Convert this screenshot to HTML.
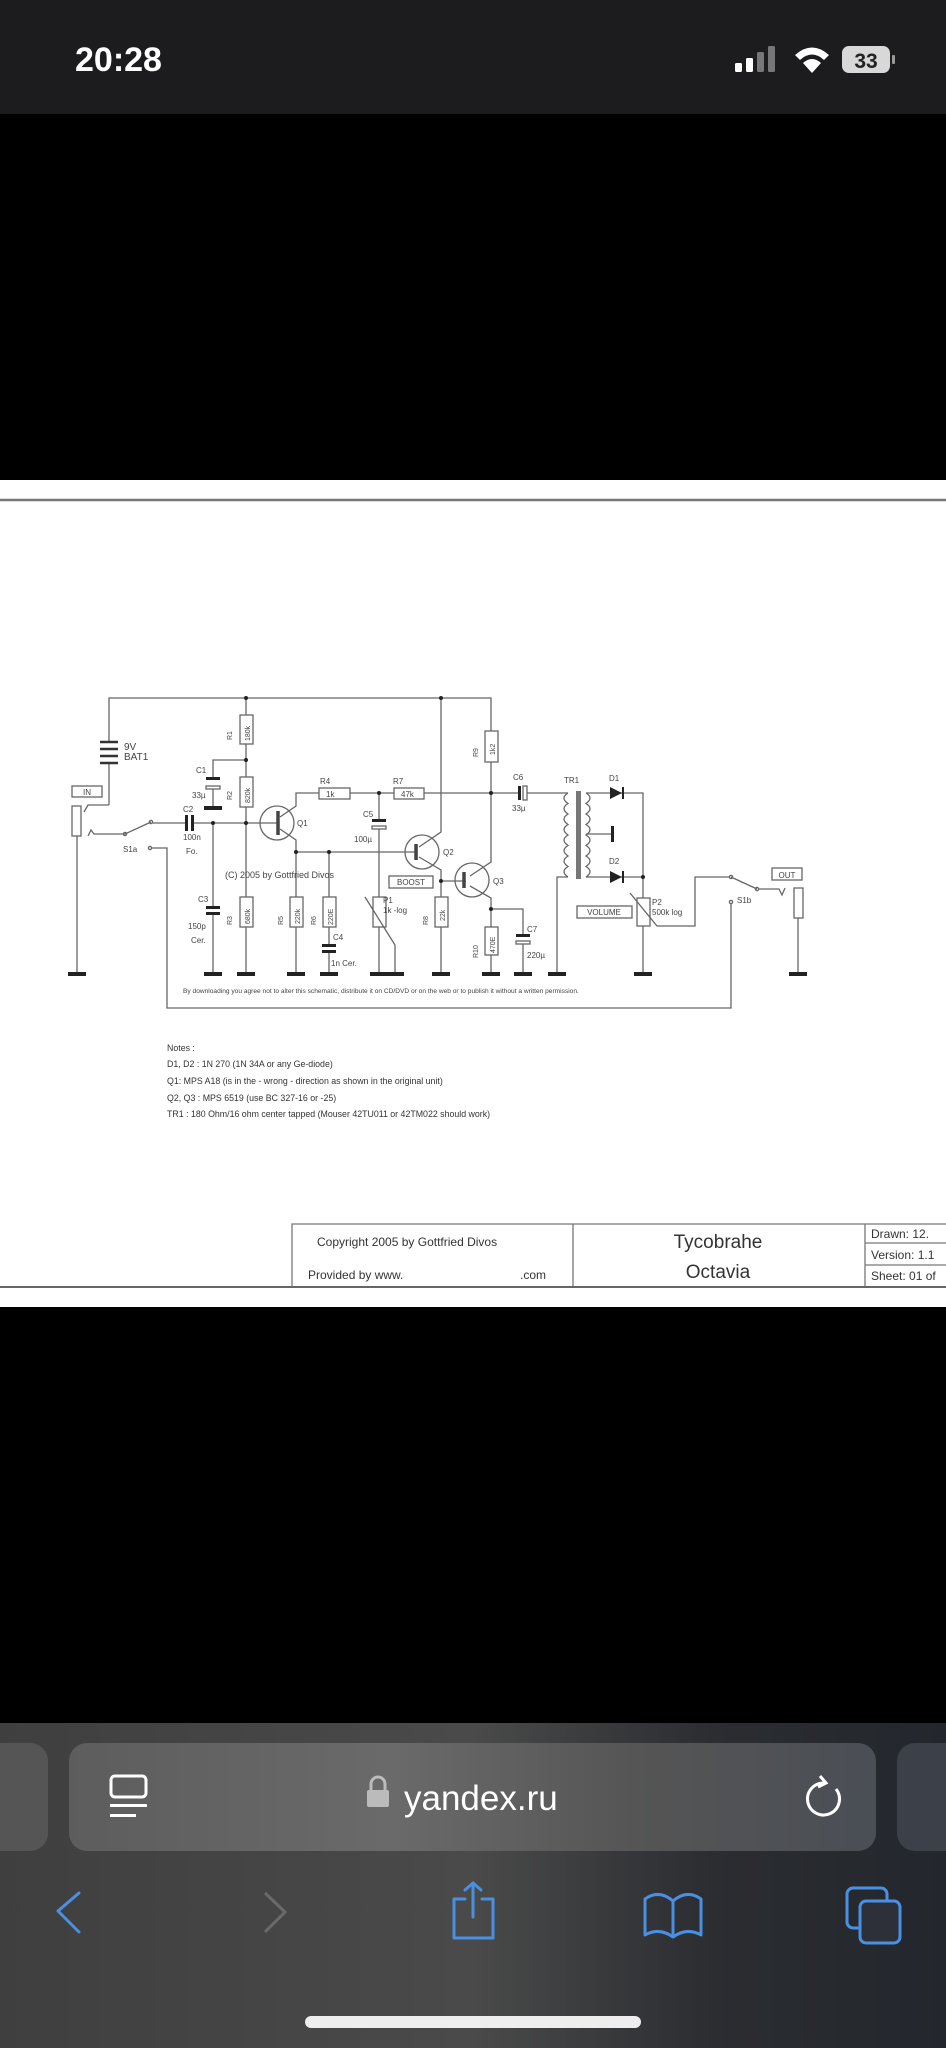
<!DOCTYPE html>
<html><head><meta charset="utf-8"><style>
html,body{margin:0;padding:0;background:#000;}
body{width:946px;height:2048px;overflow:hidden;position:relative;font-family:"Liberation Sans",sans-serif;}
</style></head><body>
<svg width="946" height="2048" viewBox="0 0 946 2048" xmlns="http://www.w3.org/2000/svg" style="position:absolute;left:0;top:0">
<defs>
<linearGradient id="tb" x1="0" x2="1" y1="0" y2="0"><stop offset="0" stop-color="#3f3f3f"/><stop offset="0.5" stop-color="#4a4a4a"/><stop offset="0.75" stop-color="#2b2d31"/><stop offset="1" stop-color="#23272d"/></linearGradient>
<linearGradient id="ub" x1="0" x2="1" y1="0" y2="0"><stop offset="0" stop-color="#5d5d5d"/><stop offset="0.4" stop-color="#6a6a6a"/><stop offset="0.7" stop-color="#555"/><stop offset="1" stop-color="#4a4e55"/></linearGradient>
</defs>
<!-- status bar -->
<rect x="0" y="0" width="946" height="114" fill="#1c1c1e"/>
<text x="75" y="71" font-size="34" fill="#fff" font-weight="bold">20:28</text>
<rect x="735" y="63" width="7" height="9" rx="1.5" fill="#fff"/>
<rect x="746" y="58" width="7" height="14" rx="1.5" fill="#fff"/>
<rect x="757" y="52" width="7" height="20" rx="1.5" fill="#777"/>
<rect x="768" y="46" width="7" height="26" rx="1.5" fill="#777"/>
<path d="M795 55 Q812 40 829 55 L824 60 Q812 49 800 60Z M803 63 Q812 55 821 63 L812 73Z" fill="#fff"/>
<rect x="842" y="46" width="48" height="27" rx="7" fill="#d8d8d8"/>
<rect x="892" y="55" width="3" height="9" rx="1" fill="#999"/>
<text x="866" y="68" font-size="21" fill="#222" text-anchor="middle" font-weight="bold">33</text>
<!-- white page -->
<rect x="0" y="480" width="946" height="827" fill="#fff"/>
<line x1="0" y1="500" x2="946" y2="500" stroke="#777" stroke-width="2.5"/>
<g stroke="#666" stroke-width="1.3" fill="none">
<!-- top rail -->
<polyline points="109,742 109,698 491,698 491,731"/>
<line x1="109" y1="763" x2="109" y2="805"/>
<polyline points="109,805 88,805 84,812"/>
<!-- battery -->
<g stroke="#333" stroke-width="2.5"><line x1="100" y1="742" x2="118" y2="742"/><line x1="100" y1="749" x2="118" y2="749"/><line x1="100" y1="756" x2="118" y2="756"/><line x1="100" y1="763" x2="118" y2="763"/></g>
<!-- jack in -->
<rect x="72" y="806" width="9" height="30"/>
<line x1="77" y1="836" x2="77" y2="973"/>
<rect x="72" y="786" width="30" height="11"/>
<!-- S1a -->
<polyline points="88,836 91,830 94,834 125,834 151,822"/>
<circle cx="125" cy="834" r="1.6"/><circle cx="151" cy="822" r="1.6"/><circle cx="150" cy="848" r="1.6"/>
<polyline points="152,848 167,848 167,1008 731,1008 731,904"/>
<circle cx="731" cy="902" r="1.6"/>
<line x1="153" y1="823" x2="185" y2="823"/>
<line x1="193" y1="823" x2="260" y2="823"/>
<!-- C1 -->
<polyline points="213,778 213,760 246,760"/>
<rect x="206" y="786" width="14" height="3"/>
<line x1="213" y1="789" x2="213" y2="806"/>
<!-- C3 column -->
<line x1="213" y1="823" x2="213" y2="907"/><line x1="213" y1="914" x2="213" y2="973"/>
<!-- R column -->
<line x1="246" y1="698" x2="246" y2="715"/><line x1="246" y1="744" x2="246" y2="777"/><line x1="246" y1="807" x2="246" y2="897"/><line x1="246" y1="927" x2="246" y2="973"/>
<rect x="240" y="715" width="13" height="29"/><rect x="240" y="777" width="13" height="30"/><rect x="240" y="897" width="13" height="30"/>
<!-- Q1 -->
<circle cx="277" cy="823" r="17"/>
<line x1="277" y1="823" x2="260" y2="823"/>
<polyline points="280,817 296,806 296,793 319,793"/>
<polyline points="280,829 296,840 296,897"/>
<rect x="319" y="788" width="31" height="11"/>
<line x1="350" y1="793" x2="394" y2="793"/>
<rect x="394" y="788" width="30" height="11"/>
<line x1="424" y1="793" x2="518" y2="793"/>
<line x1="296" y1="852" x2="417" y2="852"/>
<rect x="290" y="897" width="13" height="30"/><line x1="296" y1="927" x2="296" y2="973"/>
<line x1="329" y1="852" x2="329" y2="897"/>
<rect x="323" y="897" width="13" height="30"/><line x1="329" y1="927" x2="329" y2="945"/><line x1="329" y1="951" x2="329" y2="973"/>
<!-- C5 / P1 -->
<line x1="379" y1="793" x2="379" y2="820"/>
<rect x="372" y="826" width="14" height="3"/>
<line x1="379" y1="829" x2="379" y2="897"/>
<rect x="373" y="897" width="13" height="30"/>
<line x1="379" y1="927" x2="379" y2="973"/>
<polyline points="365,897 395,945 395,973"/>
<!-- Q2 -->
<circle cx="422" cy="852" r="17"/>
<line x1="417" y1="845" x2="417" y2="860"/>
<polyline points="419,847 441,832 441,698"/>
<polyline points="419,857 441,870 441,897"/>
<line x1="441" y1="881" x2="466" y2="881"/>
<rect x="389" y="876" width="44" height="12"/>
<rect x="435" y="897" width="13" height="30"/><line x1="441" y1="927" x2="441" y2="973"/>
<!-- Q3 -->
<circle cx="472" cy="880" r="17"/>
<polyline points="470,876 491,862 491,762"/>
<polyline points="470,886 491,898 491,927"/>
<rect x="485" y="731" width="13" height="31"/>
<rect x="485" y="927" width="13" height="28"/><line x1="491" y1="955" x2="491" y2="973"/>
<polyline points="491,909 523,909 523,935"/>
<rect x="516" y="941" width="14" height="3"/>
<line x1="523" y1="944" x2="523" y2="973"/>
<!-- C6 / TR1 -->
<rect x="523" y="786" width="4" height="14"/>
<line x1="527" y1="793" x2="568" y2="793"/>
<path d="M568 793 q-8 5 0 10.5 q-8 5 0 10.5 q-8 5 0 10.5 q-8 5 0 10.5 q-8 5 0 10.5 q-8 5 0 10.5 q-8 5 0 10.5 q-8 5 0 10.5"/>
<path d="M586 793 q8 5 0 10.5 q8 5 0 10.5 q8 5 0 10.5 q8 5 0 10.5 q8 5 0 10.5 q8 5 0 10.5 q8 5 0 10.5 q8 5 0 10.5"/>
<polyline points="568,877 557,877 557,973"/>
<polyline points="586,793 643,793 643,898"/>
<polyline points="586,877 643,877"/>
<line x1="586" y1="834" x2="612" y2="834"/>
<line x1="643" y1="926" x2="643" y2="973"/>
<rect x="637" y="898" width="13" height="28"/>
<polyline points="630,893 657,926 695,926 695,877 729,877"/>
<rect x="577" y="906" width="55" height="12"/>
<!-- S1b / out -->
<line x1="731" y1="877" x2="757" y2="889"/>
<circle cx="731" cy="877" r="1.6"/><circle cx="757" cy="889" r="1.6"/>
<polyline points="759,889 779,889 782,895 785,888"/>
<rect x="794" y="888" width="9" height="30"/>
<line x1="798" y1="918" x2="798" y2="973"/>
<rect x="772" y="868" width="30" height="12"/>
</g>
<g stroke="#444" stroke-width="3.5">
<line x1="278" y1="811" x2="278" y2="835"/>
<line x1="464" y1="872" x2="464" y2="888"/>
<line x1="416" y1="844" x2="416" y2="860"/>
</g>
<g fill="#222">
<rect x="576" y="791" width="5" height="88" fill="#777"/>
<rect x="185" y="815" width="3" height="16"/><rect x="191" y="815" width="3" height="16"/>
<rect x="206" y="777" width="14" height="3"/>
<rect x="206" y="906" width="14" height="3"/><rect x="206" y="912" width="14" height="3"/>
<rect x="322" y="944" width="14" height="3"/><rect x="322" y="950" width="14" height="3"/>
<rect x="372" y="819" width="14" height="3"/>
<rect x="516" y="934" width="14" height="3"/>
<rect x="518" y="786" width="3" height="14"/>
<rect x="611" y="826" width="3" height="16"/>
<path d="M610 787 L622 793 L610 799Z"/><rect x="622" y="787" width="2" height="12"/>
<path d="M610 871 L622 877 L610 883Z"/><rect x="622" y="871" width="2" height="12"/>
<!-- grounds -->
<rect x="68" y="972" width="18" height="4"/><rect x="204" y="972" width="18" height="4"/><rect x="237" y="972" width="18" height="4"/>
<rect x="287" y="972" width="18" height="4"/><rect x="320" y="972" width="18" height="4"/><rect x="370" y="972" width="34" height="4"/>
<rect x="432" y="972" width="18" height="4"/><rect x="482" y="972" width="18" height="4"/><rect x="514" y="972" width="18" height="4"/>
<rect x="548" y="972" width="18" height="4"/><rect x="634" y="972" width="18" height="4"/><rect x="789" y="972" width="18" height="4"/>
<rect x="204" y="806" width="18" height="4"/>
<!-- dots -->
<circle cx="246" cy="698" r="2"/><circle cx="441" cy="698" r="2"/><circle cx="246" cy="760" r="2"/>
<circle cx="213" cy="823" r="2"/><circle cx="246" cy="823" r="2"/><circle cx="379" cy="793" r="2"/>
<circle cx="491" cy="793" r="2"/><circle cx="296" cy="852" r="2"/><circle cx="329" cy="852" r="2"/>
<circle cx="441" cy="881" r="2"/><circle cx="491" cy="909" r="2"/><circle cx="643" cy="877" r="2"/>
</g>
<g font-size="8" fill="#444">
<text x="124" y="750" font-size="10">9V</text><text x="124" y="760" font-size="10">BAT1</text>
<text x="87" y="795" text-anchor="middle" font-size="8">IN</text>
<text x="787" y="878" text-anchor="middle">OUT</text>
<text x="411" y="885" text-anchor="middle">BOOST</text>
<text x="604" y="915" text-anchor="middle">VOLUME</text>
<text x="123" y="852">S1a</text><text x="737" y="903">S1b</text>
<text x="196" y="773">C1</text><text x="192" y="798">33µ</text>
<text x="183" y="812">C2</text><text x="183" y="840">100n</text><text x="186" y="854">Fo.</text>
<text x="198" y="902">C3</text><text x="188" y="929">150p</text><text x="191" y="943">Cer.</text>
<text x="297" y="826">Q1</text><text x="443" y="855">Q2</text><text x="493" y="884">Q3</text>
<text x="320" y="784">R4</text><text x="393" y="784">R7</text>
<text x="326" y="797">1k</text><text x="401" y="797">47k</text>
<text x="363" y="817">C5</text><text x="354" y="842">100µ</text>
<text x="383" y="903">P1</text><text x="383" y="913">1k -log</text>
<text x="333" y="940">C4</text><text x="331" y="966">1n Cer.</text>
<text x="513" y="780">C6</text><text x="512" y="811">33µ</text>
<text x="564" y="783">TR1</text><text x="609" y="781">D1</text><text x="609" y="864">D2</text>
<text x="527" y="932">C7</text><text x="527" y="958">220µ</text>
<text x="652" y="905">P2</text><text x="652" y="915">500k log</text>
<text x="225" y="878" font-size="9">(C) 2005 by Gottfried Divos</text>
<text x="183" y="993" font-size="6.6">By downloading you agree not to alter this schematic, distribute it on CD/DVD or on the web or to publish it without a written permission.</text>
<g font-size="7">
<text transform="translate(232,740) rotate(-90)">R1</text><text transform="translate(250,741) rotate(-90)">180k</text>
<text transform="translate(232,800) rotate(-90)">R2</text><text transform="translate(250,803) rotate(-90)">820k</text>
<text transform="translate(232,925) rotate(-90)">R3</text><text transform="translate(250,924) rotate(-90)">680k</text>
<text transform="translate(283,925) rotate(-90)">R5</text><text transform="translate(300,924) rotate(-90)">220k</text>
<text transform="translate(316,925) rotate(-90)">R6</text><text transform="translate(333,925) rotate(-90)">220E</text>
<text transform="translate(428,925) rotate(-90)">R8</text><text transform="translate(445,921) rotate(-90)">22k</text>
<text transform="translate(478,757) rotate(-90)">R9</text><text transform="translate(495,755) rotate(-90)">1k2</text>
<text transform="translate(478,958) rotate(-90)">R10</text><text transform="translate(495,953) rotate(-90)">470E</text>
</g>
</g>
<!-- notes -->
<g font-size="8.8" fill="#333">
<text x="167" y="1051">Notes :</text>
<text x="167" y="1067">D1, D2 :  1N 270  (1N 34A or any Ge-diode)</text>
<text x="167" y="1084">Q1:  MPS A18  (is in the - wrong - direction as shown in the original unit)</text>
<text x="167" y="1101">Q2, Q3 :  MPS 6519 (use BC 327-16 or -25)</text>
<text x="167" y="1117">TR1 :  180 Ohm/16 ohm center tapped (Mouser  42TU011 or 42TM022 should work)</text>
</g>
<!-- title block -->
<g stroke="#777" stroke-width="1.3" fill="none">
<polyline points="292,1287 292,1224 946,1224"/>
<line x1="573" y1="1224" x2="573" y2="1287"/>
<line x1="865" y1="1224" x2="865" y2="1287"/>
<line x1="865" y1="1243" x2="946" y2="1243"/>
<line x1="865" y1="1265" x2="946" y2="1265"/>
</g>
<line x1="0" y1="1287" x2="946" y2="1287" stroke="#666" stroke-width="2"/>
<g fill="#333">
<text x="317" y="1246" font-size="12">Copyright 2005 by Gottfried Divos</text>
<text x="308" y="1279" font-size="12">Provided by  www.</text>
<text x="520" y="1279" font-size="12">.com</text>
<text x="718" y="1248" font-size="19" text-anchor="middle">Tycobrahe</text>
<text x="718" y="1278" font-size="19" text-anchor="middle">Octavia</text>
<text x="871" y="1238" font-size="12">Drawn:  12.</text>
<text x="871" y="1259" font-size="12">Version:  1.1</text>
<text x="871" y="1280" font-size="12">Sheet:  01 of</text>
</g>
<!-- bottom toolbar -->
<rect x="0" y="1723" width="946" height="325" fill="url(#tb)"/>
<rect x="-20" y="1743" width="68" height="108" rx="18" fill="#555"/>
<rect x="897" y="1743" width="80" height="108" rx="18" fill="#3c4048"/>
<rect x="69" y="1743" width="807" height="108" rx="18" fill="url(#ub)"/>
<rect x="111" y="1776" width="35" height="21" rx="4" fill="none" stroke="#fff" stroke-width="3"/>
<rect x="110" y="1804" width="37" height="3" fill="#fff"/><rect x="110" y="1814" width="26" height="3" fill="#fff"/>
<rect x="367" y="1790" width="22" height="17" rx="2" fill="#bbb"/>
<path d="M371 1790 v-6 a7 7 0 0 1 14 0 v6" fill="none" stroke="#bbb" stroke-width="3"/>
<text x="404" y="1810" font-size="35" fill="#fff">yandex.ru</text>
<path d="M824 1783 a16 16 0 1 0 12 6" fill="none" stroke="#fff" stroke-width="3"/>
<path d="M820 1776 l6 7 l-8 4" fill="none" stroke="#fff" stroke-width="3"/>
<g fill="none" stroke="#4a90e2" stroke-width="3" stroke-linecap="round" stroke-linejoin="round">
<polyline points="79,1893 58,1911 79,1932"/>
<polyline points="465,1899 454,1899 454,1938 493,1938 493,1899 482,1899"/>
<line x1="473" y1="1883" x2="473" y2="1917"/><polyline points="465,1890 473,1883 481,1890"/>
<path d="M645 1935 v-36 q14 -10 28 2 q14 -12 28 -2 v36 q-14 -8 -28 2 q-14 -10 -28 -2z M673 1901 v36"/>
<rect x="847" y="1888" width="40" height="40" rx="6"/>
<rect x="860" y="1901" width="40" height="42" rx="6" fill="#2d3038"/>
</g>
<polyline points="265,1893 285,1912 265,1932" fill="none" stroke="#6a6a6a" stroke-width="3"/>
<rect x="305" y="2016" width="336" height="12" rx="6" fill="#eee"/>
</svg>
</body></html>
